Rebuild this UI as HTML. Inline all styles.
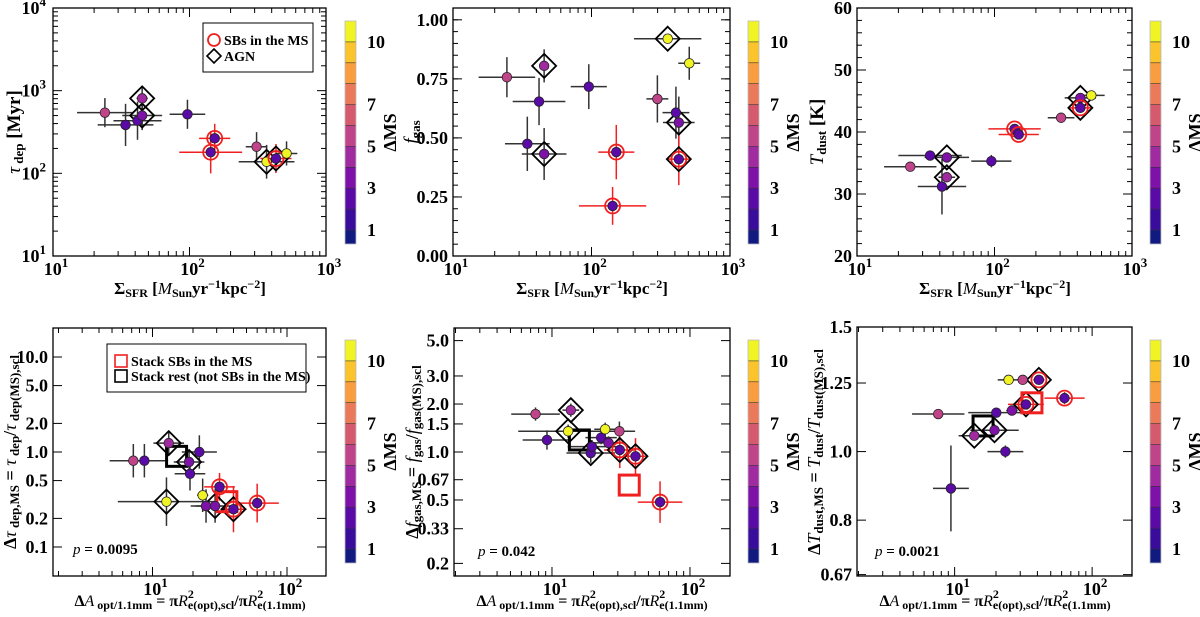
<!DOCTYPE html>
<html><head><meta charset="utf-8"><style>
html,body{margin:0;padding:0;background:#fff}
svg{display:block;font-family:"Liberation Serif",serif}
.tk{font-weight:bold;font-size:18px}
.ti{font-weight:bold;font-size:18px}
</style></head><body>
<svg id="c" width="1200" height="617" viewBox="0 0 1200 617"></svg>
<script>
// ---- data ----
const tlX=[24,34,41.6,45,45,96.6,153,143,310,367,430,514];
const tlY=[542,385,433,500,807,518,265,180,210,138,151,174];
const tlD=[5.5,2.5,2.5,3.5,4.5,2.5,2.5,2.5,5.5,10.5,2.5,10.5];
const tlSB=[0,0,0,0,0,0,1,1,0,0,1,0];
const tlAGN=[0,0,0,1,1,0,0,0,0,1,1,0];
const tlXE=[1.6,1.6,1.5,1.4,1.1,1.35,1.3,1.7,1.2,1.6,1.3,1.2];
const tlYE=[1.5,1.8,1.7,1.5,1.4,1.5,1.5,1.8,1.5,1.6,1.5,1.4];

const tmX=[24.5,41.8,45.5,34.4,45.5,95.6,151,142,355,508,299,407,427,427];
const tmY=[0.757,0.654,0.805,0.475,0.432,0.717,0.44,0.212,0.92,0.816,0.665,0.607,0.565,0.41];
const tmD=[5.5,2.5,4.5,2.5,3.5,2.5,2.5,2.5,10.5,10.5,5.5,2.5,3.5,2.5];
const tmSB=[0,0,0,0,0,0,1,1,0,0,0,0,0,1];
const tmAGN=[0,0,1,0,1,0,0,0,1,0,0,0,1,1];
const tmXE=[1.6,1.55,1.08,1.45,1.45,1.35,1.35,1.75,1.75,1.2,1.2,1.25,1.3,1.2];
const tmYE=[0.085,0.1,0.07,0.115,0.11,0.095,0.115,0.08,0.0,0.07,0.1,0.11,0.11,0.11];

const trX=[24.4,34,45,45,41.5,94.9,140,150,305,421,421,506];
const trY=[34.4,36.2,35.9,32.7,31.2,35.3,40.5,39.6,42.3,45.5,43.9,45.9];
const trD=[5.5,2.5,3.5,4.5,2.5,2.5,2.5,2.5,5.5,3.5,2.5,10.5];
const trSB=[0,0,0,0,0,0,1,1,0,0,1,0];
const trAGN=[0,0,1,1,0,0,0,0,0,1,1,0];
const trXE=[1.55,1.7,1.45,1.15,1.5,1.4,1.55,1.4,1.25,1.3,1.2,1.25];
const trYE=[0.3,0.3,0.3,0.3,4.5,1.0,0.3,0.3,0.3,0.3,0.3,0.3];

const blX=[7.2,8.7,13.2,12.7,18.7,19,22.3,23.6,25,29.2,31.5,40,60];
const blY=[0.81,0.81,1.24,0.30,0.785,0.59,1.0,0.35,0.27,0.27,0.43,0.25,0.29];
const blD=[5.5,2.5,4.5,10.5,3.5,2.5,2.5,10.5,3.5,3.5,2.5,2.5,2.5];
const blSB=[0,0,0,0,0,0,0,0,0,0,1,1,1];
const blAGN=[0,0,1,1,1,0,0,0,0,1,0,1,0];
const blXE=[1.5,1.5,1.3,2.3,1.3,1.3,1.35,1.1,1.3,1.4,1.3,1.25,1.45];
const blYE=[1.5,1.5,1.35,1.8,1.3,1.5,1.5,1.5,1.5,1.5,1.4,1.75,1.6];
const blSX=[15.1,35.7], blSY=[0.90,0.30];

const bmX=[7.6,13.7,9.2,13.1,19.1,19.5,22.7,24.3,25.7,30.8,31,40.3,60.7];
const bmY=[1.73,1.83,1.19,1.35,0.985,1.08,1.23,1.39,1.14,1.35,1.03,0.94,0.485];
const bmD=[5.5,4.5,2.5,10.5,2.5,2.5,2.5,10.5,3.5,5.5,2.5,2.5,2.5];
const bmSB=[0,0,0,0,0,0,0,0,0,0,1,1,1];
const bmAGN=[0,1,0,1,1,0,0,0,0,0,1,1,0];
const bmXE=[1.5,1.15,1.5,2.3,1.5,1.5,1.3,1.2,1.3,1.3,1.3,1.2,1.45];
const bmYE=[1.1,1.1,1.15,1.1,1.15,1.1,1.1,1.1,1.1,1.15,1.3,1.3,1.35];
const bmSX=[15.8,36.3], bmSY=[1.19,0.62];

const brX=[7.6,9.4,13.9,19.5,20.1,23.4,26.1,24.7,31.3,33,41,63];
const brY=[1.13,0.887,1.053,1.072,1.135,1.0,1.143,1.263,1.263,1.166,1.263,1.19];
const brD=[5.5,2.5,4.5,3.5,2.5,2.5,3.5,10.5,5.5,2.5,2.5,2.5];
const brSB=[0,0,0,0,0,0,0,0,0,1,1,1];
const brAGN=[0,0,1,1,0,0,0,0,0,1,1,0];
const brXE=[1.55,1.35,1.3,1.5,1.6,1.35,1.1,1.2,1.1,1.35,1.1,1.4];
const brYE=[1.01,1.15,1.01,1.02,1.01,1.02,1.01,1.01,1.01,1.01,1.01,1.02];
const brSX=[16.1,36.5], brSY=[1.087,1.172];

const cbLabels=[1,3,5,7,10];
const bandCols=["#101a80","#3a0c9c","#5a0aa6","#7e12a8","#a02aa0","#c0448a","#d65a6e","#ea7a5a","#f99d3e","#fbc32c","#f0f424"];

// ---- drawing ----
const NS="http://www.w3.org/2000/svg";
const svg=document.getElementById('c');
function el(t,a,p){const e=document.createElementNS(NS,t);for(const k in a)e.setAttribute(k,a[k]);(p||svg).appendChild(e);return e;}
function scale(lo,hi,p0,p1,log){if(log){const a=Math.log10(lo),b=Math.log10(hi);return v=>p0+(Math.log10(v)-a)/(b-a)*(p1-p0);}return v=>p0+(v-lo)/(hi-lo)*(p1-p0);}
function dcol(v){let i=Math.floor(v);if(i<0)i=0;if(i>10)i=10;return bandCols[i];}

function sup(g,x,y,base,exp,anchor){
  const t=el('text',{x:x,y:y,'text-anchor':anchor||'middle',class:'tk'},g);
  t.appendChild(document.createTextNode(base));
  const s=el('tspan',{dy:-8,'font-size':13},t);s.textContent=exp;
  return t;
}

function panel(o){
  const g=el('g',{});
  
  
  const [x0,y0,x1,y1]=o.f;
  const sx=scale(o.xr[0],o.xr[1],x0,x1,true);
  const sy=scale(o.yr[0],o.yr[1],y1,y0,o.ylog);
  const tk=el('g',{stroke:'#000','stroke-width':1},g);
  
  for(let d=-1;d<4;d++)for(let m=1;m<10;m++){const v=m*Math.pow(10,d);if(v<o.xr[0]*0.999||v>o.xr[1]*1.001)continue;const px=sx(v);const L=m==1?9:5;
    el('line',{x1:px,y1:y1,x2:px,y2:y1-L},tk);el('line',{x1:px,y1:y0,x2:px,y2:y0+L},tk);}
  o.yMinor.forEach(v=>{const py=sy(v);el('line',{x1:x0,y1:py,x2:x0+5,y2:py},tk);el('line',{x1:x1,y1:py,x2:x1-5,y2:py},tk);});
  o.yMajor.forEach(v=>{const py=sy(v);el('line',{x1:x0,y1:py,x2:x0+9,y2:py},tk);el('line',{x1:x1,y1:py,x2:x1-9,y2:py},tk);});
  o.xLab.forEach(([v,e])=>{const t=sup(g,sx(v)+3,o.f[3]+19,'10',e);});
  o.yLab.forEach(([v,s,e])=>{let t;if(e){t=sup(g,x0-7,sy(v)+6,s,e,'end');}else{t=el('text',{x:x0-5,y:sy(v)+6,'text-anchor':'end',class:'tk'},g);t.textContent=s;}
    });
  const X=o.x,Y=o.y;
  const eb=el('g',{},g);
  for(let i=0;i<X.length;i++){
    const c=o.sb[i]?'#f02020':'#333';
    const px=sx(X[i]),py=sy(Y[i]);
    const l=el('line',{x1:sx(X[i]/o.xe[i]),x2:sx(X[i]*o.xe[i]),y1:py,y2:py,stroke:c,'stroke-width':1.5},eb);
    
    let ya,yb; if(o.ylog){ya=Y[i]/o.ye[i];yb=Y[i]*o.ye[i];}else{ya=Y[i]-o.ye[i];yb=Y[i]+o.ye[i];}
    const l2=el('line',{x1:px,x2:px,y1:sy(ya),y2:sy(yb),stroke:c,'stroke-width':1.5},eb);
    
  }
  for(let i=0;i<X.length;i++){if(!o.agn[i])continue;const px=sx(X[i]),py=sy(Y[i]),r=12;
    const d=el('polygon',{points:`${px},${py-r} ${px+r},${py} ${px},${py+r} ${px-r},${py}`,fill:'none',stroke:'#000','stroke-width':1.8},g);
    }
  if(o.sx){for(let i=0;i<o.sx.length;i++){const px=sx(o.sx[i]),py=sy(o.sy[i]);
    const q=el('rect',{x:px-10,y:py-10,width:20,height:20,fill:'none',stroke:i?'#f02020':'#000','stroke-width':3},g);
    }}
  for(let i=0;i<X.length;i++){const px=sx(X[i]),py=sy(Y[i]);
    if(o.sb[i]){const r=el('circle',{cx:px,cy:py,r:7.5,fill:'none',stroke:'#f02020','stroke-width':1.8},g);
      }
    const c=el('circle',{cx:px,cy:py,r:4.8,fill:dcol(o.d[i]),stroke:'#222','stroke-width':0.8},g);
    }
  const fr=el('rect',{x:x0,y:y0,width:x1-x0,height:y1-y0,fill:'none',stroke:'#000','stroke-width':1.3},g);
  
  const cb=el('g',{},g);
  const cx=o.cb[0],ct=o.cb[1],cbt=o.cb[2];const k=(cbt-ct)/10.67;const cy=v=>cbt-(v-0.33)*k;
  for(let i=0;i<11;i++){const a=i==0?0.33:i,b=i+1;
    el('rect',{x:cx,y:cy(b),width:11,height:cy(a)-cy(b),fill:bandCols[i]},cb);
    if(i>0)el('line',{x1:cx,x2:cx+11,y1:cy(i),y2:cy(i),stroke:'#333','stroke-width':0.6},cb);}
  el('rect',{x:cx,y:ct,width:11,height:cbt-ct,fill:'none',stroke:'#bbb','stroke-width':0.8},cb);
  cbLabels.forEach(v=>{const t=el('text',{x:cx+22,y:cy(v)+6,class:'tk'},cb);t.textContent=v;
    });
  const ms=el('text',{x:0,y:0,class:'ti','font-size':19,'text-anchor':'middle',transform:`translate(${cx+51},${(ct+cbt)/2}) rotate(-90)`},cb);
  ms.textContent='ΔMS';
  return g;
}

const topXLab=[[10,'1'],[100,'2'],[1000,'3']];
const botXLab=[[10,'1'],[100,'2']];
function rng(a,b,s){const r=[];for(let v=a;v<=b+1e-9;v+=s)r.push(+v.toFixed(4));return r;}

panel({name:'panel-tdep-vs-sfr',f:[53,8,326,256],xr:[10,1000],yr:[10,10000],ylog:true,
  yMajor:[10,100,1000,10000],yMinor:[2,3,4,5,6,7,8,9].flatMap(m=>[m*10,m*100,m*1000]),
  xLab:topXLab,yLab:[[10,'10','1'],[100,'10','2'],[1000,'10','3'],[10000,'10','4']],
  x:tlX,y:tlY,d:tlD,sb:tlSB,agn:tlAGN,xe:tlXE,ye:tlYE,cb:[345,21,244]});
panel({name:'panel-fgas-vs-sfr',f:[453,8,730,256],xr:[10,1000],yr:[0,1.05],ylog:false,
  yMajor:[0,0.25,0.5,0.75,1.0],yMinor:rng(0,1.05,0.05),
  xLab:topXLab,yLab:[[0,'0.00'],[0.25,'0.25'],[0.5,'0.50'],[0.75,'0.75'],[1,'1.00']],
  x:tmX,y:tmY,d:tmD,sb:tmSB,agn:tmAGN,xe:tmXE,ye:tmYE,cb:[748,21,244]});
panel({name:'panel-tdust-vs-sfr',f:[857,8,1132,256],xr:[10,1000],yr:[20,60],ylog:false,
  yMajor:[20,30,40,50,60],yMinor:rng(20,60,2),
  xLab:topXLab,yLab:[[20,'20'],[30,'30'],[40,'40'],[50,'50'],[60,'60']],
  x:trX,y:trY,d:trD,sb:trSB,agn:trAGN,xe:trXE,ye:trYE,cb:[1150,21,244]});
panel({name:'panel-dtdep-vs-area',f:[53,328,326,576],xr:[1.82,195],yr:[0.0495,20.2],ylog:true,
  yMajor:[0.1,0.2,0.5,1,2,5,10],yMinor:[],
  xLab:botXLab,yLab:[[0.1,'0.1'],[0.2,'0.2'],[0.5,'0.5'],[1,'1.0'],[2,'2.0'],[5,'5.0'],[10,'10.0']],
  x:blX,y:blY,d:blD,sb:blSB,agn:blAGN,xe:blXE,ye:blYE,sx:blSX,sy:blSY,cb:[345,340,563]});
panel({name:'panel-dfgas-vs-area',f:[454,328,730,576],xr:[1.95,195],yr:[1/6,6],ylog:true,
  yMajor:[0.2,0.33,0.5,0.67,1,1.5,2,3,5],yMinor:[],
  xLab:botXLab,yLab:[[0.2,'0.2'],[0.33,'0.33'],[0.5,'0.5'],[0.67,'0.67'],[1,'1.0'],[1.5,'1.5'],[2,'2.0'],[3,'3.0'],[5,'5.0']],
  x:bmX,y:bmY,d:bmD,sb:bmSB,agn:bmAGN,xe:bmXE,ye:bmYE,sx:bmSX,sy:bmSY,cb:[748,340,563]});
panel({name:'panel-dtdust-vs-area',f:[857,327,1132,576],xr:[1.95,195],yr:[0.667,1.5],ylog:true,
  yMajor:[0.67,0.8,1,1.25,1.5],yMinor:[],
  xLab:botXLab,yLab:[[0.67,'0.67'],[0.8,'0.8'],[1,'1.0'],[1.25,'1.25'],[1.5,'1.5']],
  x:brX,y:brY,d:brD,sb:brSB,agn:brAGN,xe:brXE,ye:brYE,sx:brSX,sy:brSY,cb:[1150,340,563]});
</script>
<svg width="1200" height="617" style="position:absolute;left:0;top:0" font-family="Liberation Serif, serif" font-weight="bold" font-size="17">
  <g>
    <text x="190" y="294" text-anchor="middle">Σ<tspan font-size="12" dy="3">SFR</tspan><tspan dy="-3"> [</tspan><tspan font-style="italic" font-weight="normal">M</tspan><tspan font-size="12" dy="3">Sun</tspan><tspan dy="-3">yr</tspan><tspan font-size="12" dy="-6">−1</tspan><tspan dy="6">kpc</tspan><tspan font-size="12" dy="-6">−2</tspan><tspan dy="6">]</tspan></text>
    <text x="592" y="294" text-anchor="middle">Σ<tspan font-size="12" dy="3">SFR</tspan><tspan dy="-3"> [</tspan><tspan font-style="italic" font-weight="normal">M</tspan><tspan font-size="12" dy="3">Sun</tspan><tspan dy="-3">yr</tspan><tspan font-size="12" dy="-6">−1</tspan><tspan dy="6">kpc</tspan><tspan font-size="12" dy="-6">−2</tspan><tspan dy="6">]</tspan></text>
    <text x="995" y="294" text-anchor="middle">Σ<tspan font-size="12" dy="3">SFR</tspan><tspan dy="-3"> [</tspan><tspan font-style="italic" font-weight="normal">M</tspan><tspan font-size="12" dy="3">Sun</tspan><tspan dy="-3">yr</tspan><tspan font-size="12" dy="-6">−1</tspan><tspan dy="6">kpc</tspan><tspan font-size="12" dy="-6">−2</tspan><tspan dy="6">]</tspan></text>
  </g>
  <g font-size="16">
    <text x="190" y="606" text-anchor="middle">Δ<tspan font-style="italic" font-weight="normal">A</tspan><tspan font-size="12" dy="3"> opt/1.1mm</tspan><tspan dy="-3"> = π</tspan><tspan font-style="italic" font-weight="normal">R</tspan><tspan font-size="12" dy="-8">2</tspan><tspan font-size="12" dy="11" dx="-6">e(opt),scl</tspan><tspan dy="-3">/π</tspan><tspan font-style="italic" font-weight="normal">R</tspan><tspan font-size="12" dy="-8">2</tspan><tspan font-size="12" dy="11" dx="-6">e(1.1mm)</tspan></text>
    <text x="592" y="606" text-anchor="middle">Δ<tspan font-style="italic" font-weight="normal">A</tspan><tspan font-size="12" dy="3"> opt/1.1mm</tspan><tspan dy="-3"> = π</tspan><tspan font-style="italic" font-weight="normal">R</tspan><tspan font-size="12" dy="-8">2</tspan><tspan font-size="12" dy="11" dx="-6">e(opt),scl</tspan><tspan dy="-3">/π</tspan><tspan font-style="italic" font-weight="normal">R</tspan><tspan font-size="12" dy="-8">2</tspan><tspan font-size="12" dy="11" dx="-6">e(1.1mm)</tspan></text>
    <text x="995" y="606" text-anchor="middle">Δ<tspan font-style="italic" font-weight="normal">A</tspan><tspan font-size="12" dy="3"> opt/1.1mm</tspan><tspan dy="-3"> = π</tspan><tspan font-style="italic" font-weight="normal">R</tspan><tspan font-size="12" dy="-8">2</tspan><tspan font-size="12" dy="11" dx="-6">e(opt),scl</tspan><tspan dy="-3">/π</tspan><tspan font-style="italic" font-weight="normal">R</tspan><tspan font-size="12" dy="-8">2</tspan><tspan font-size="12" dy="11" dx="-6">e(1.1mm)</tspan></text>
  </g>
  <text font-size="19" transform="translate(20,132) rotate(-90)" text-anchor="middle"><tspan font-style="italic" font-weight="normal">τ</tspan><tspan font-size="13" dy="3"> dep</tspan><tspan dy="-3"> [Myr]</tspan></text>
  <text font-size="19" transform="translate(417,132) rotate(-90)" text-anchor="middle"><tspan font-style="italic" font-weight="normal">f</tspan><tspan font-size="13" dy="3">gas</tspan></text>
  <text font-size="19" transform="translate(823,132) rotate(-90)" text-anchor="middle"><tspan font-style="italic" font-weight="normal">T</tspan><tspan font-size="13" dy="3">dust</tspan><tspan dy="-3"> [K]</tspan></text>
  <text font-size="18" transform="translate(16,452) rotate(-90)" text-anchor="middle">Δ<tspan font-style="italic" font-weight="normal">τ</tspan><tspan font-size="13" dy="3"> dep,MS</tspan><tspan dy="-3"> = </tspan><tspan font-style="italic" font-weight="normal">τ</tspan><tspan font-size="13" dy="3"> dep</tspan><tspan dy="-3">/</tspan><tspan font-style="italic" font-weight="normal">τ</tspan><tspan font-size="13" dy="3"> dep(MS),scl</tspan></text>
  <text font-size="18" transform="translate(418,452) rotate(-90)" text-anchor="middle">Δ<tspan font-style="italic" font-weight="normal">f</tspan><tspan font-size="13" dy="3">gas,MS</tspan><tspan dy="-3"> = </tspan><tspan font-style="italic" font-weight="normal">f</tspan><tspan font-size="13" dy="3">gas</tspan><tspan dy="-3">/</tspan><tspan font-style="italic" font-weight="normal">f</tspan><tspan font-size="13" dy="3">gas(MS),scl</tspan></text>
  <text font-size="18" transform="translate(820,452) rotate(-90)" text-anchor="middle">Δ<tspan font-style="italic" font-weight="normal">T</tspan><tspan font-size="13" dy="3">dust,MS</tspan><tspan dy="-3"> = </tspan><tspan font-style="italic" font-weight="normal">T</tspan><tspan font-size="13" dy="3">dust</tspan><tspan dy="-3">/</tspan><tspan font-style="italic" font-weight="normal">T</tspan><tspan font-size="13" dy="3">dust(MS),scl</tspan></text>
  <g font-size="14">
    <rect x="203" y="23" width="110" height="49" fill="#fff" stroke="#000" stroke-width="1"/>
    <circle cx="214" cy="40" r="6" fill="none" stroke="#f02020" stroke-width="1.8"/>
    <text x="224" y="45">SBs in the MS</text>
    <polygon points="214,49 221,56 214,63 207,56" fill="none" stroke="#000" stroke-width="1.6"/>
    <text x="224" y="61">AGN</text>
  </g>
  <g font-size="14">
    <rect x="107" y="344" width="199" height="48" fill="#fff" stroke="#000" stroke-width="1"/>
    <rect x="115" y="355" width="12" height="12" fill="none" stroke="#f02020" stroke-width="1.6"/>
    <text x="131" y="366">Stack SBs in the MS</text>
    <rect x="115" y="370" width="12" height="12" fill="none" stroke="#000" stroke-width="1.6"/>
    <text x="131" y="381">Stack rest (not SBs in the MS)</text>
  </g>
  <g font-size="15">
    <text x="73" y="554"><tspan font-style="italic" font-weight="normal">p</tspan> = 0.0095</text>
    <text x="478" y="556"><tspan font-style="italic" font-weight="normal">p</tspan> = 0.042</text>
    <text x="875" y="556"><tspan font-style="italic" font-weight="normal">p</tspan> = 0.0021</text>
  </g>
</svg>
</body></html>
